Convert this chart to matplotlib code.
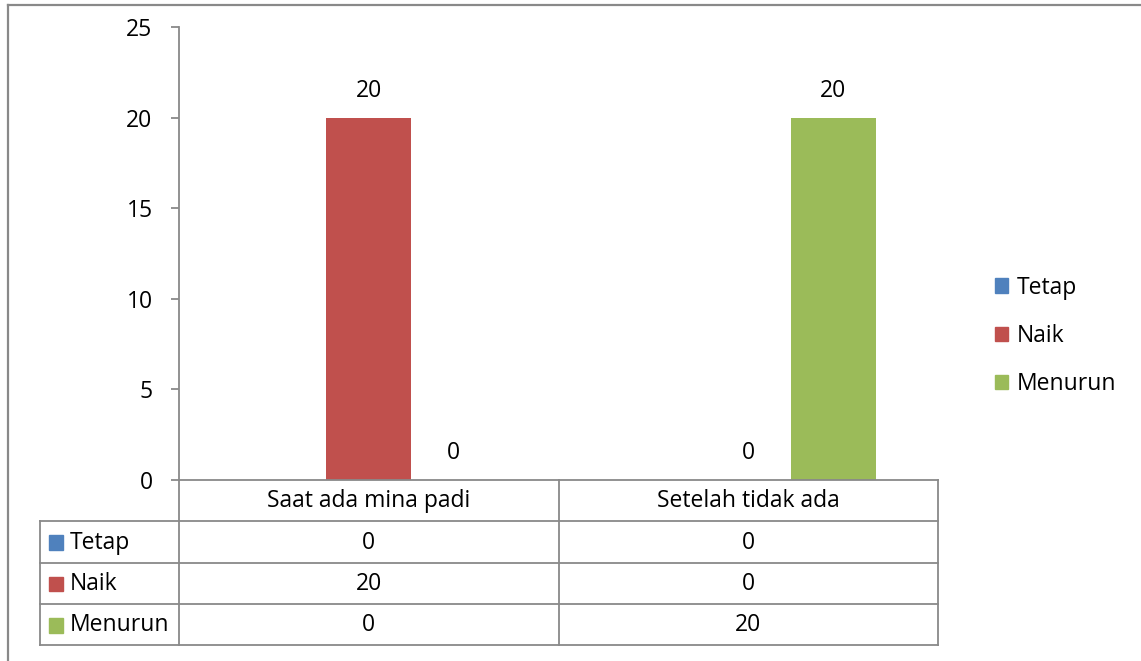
import matplotlib
matplotlib.use("Agg")
import matplotlib.pyplot as plt
from matplotlib.patches import Patch, Rectangle
from matplotlib.lines import Line2D

categories = ["Saat ada mina padi", "Setelah tidak ada"]
series = ["Tetap", "Naik", "Menurun"]
tetap = [0, 0]
naik = [20, 0]
menurun = [0, 20]
values = [tetap, naik, menurun]
colors = ["#4F81BD", "#C0504D", "#9BBB59"]
show_labels = [False, True, True]
yticks = [0, 5, 10, 15, 20, 25]

plt.rcParams["font.family"] = ["Open Sans", "DejaVu Sans"]
FS = 16.5
GRAY = "#898989"

W, H = 1141, 661
fig = plt.figure(figsize=(W / 100, H / 100), dpi=100)

def px_axes(x0, y0, x1, y1, **kw):
    return fig.add_axes([x0 / W, 1 - y1 / H, (x1 - x0) / W, (y1 - y0) / H], **kw)

# outer chart frame
fig.add_artist(Line2D([8 / W, 8 / W], [0, 1 - 5 / H], color=GRAY, lw=1.6))
fig.add_artist(Line2D([8 / W, 1], [1 - 5 / H, 1 - 5 / H], color=GRAY, lw=1.6))

ax = px_axes(179, 27, 938, 480)
n = len(categories)
bw = 0.224
for i, (name, vals, col, lab) in enumerate(zip(series, values, colors, show_labels)):
    xs = [c + (i - 1) * bw for c in range(n)]
    ax.bar(xs, vals, width=bw, color=col, label=name)
    if lab:
        for x, v in zip(xs, vals):
            ax.annotate(str(v), (x, v), xytext=(0, 27), textcoords="offset pixels",
                        ha="center", va="center", fontsize=FS)

ax.set_xlim(-0.5, n - 0.5)
ax.set_ylim(0, 25)
ax.set_yticks(yticks)
ax.set_xticks([])
for s in ["top", "right"]:
    ax.spines[s].set_visible(False)
for s in ["left", "bottom"]:
    ax.spines[s].set_color(GRAY)
    ax.spines[s].set_linewidth(1.3)
ax.tick_params(axis="y", length=6, width=1.3, color=GRAY, pad=13, labelsize=FS)

# data table beneath the plot
tab = px_axes(40, 480, 938, 645)
col_w = (938 - 179) / n
tab.set_xlim(40, 938)
tab.set_ylim(len(series) + 1, 0)
tab.axis("off")
lk = dict(color=GRAY, lw=1.3, clip_on=False)
x_left, x_first = 40, 179
for r in range(1, len(series) + 2):
    tab.plot([x_left, 938], [r, r], **lk)
for c in range(n + 1):
    tab.plot([x_first + c * col_w] * 2, [0, len(series) + 1], **lk)
tab.plot([x_left, x_left], [1, len(series) + 1], **lk)
for c, cat in enumerate(categories):
    tab.text(x_first + (c + 0.5) * col_w, 0.52, cat, ha="center", va="center", fontsize=FS)
for r, (name, vals, col) in enumerate(zip(series, values, colors)):
    yy = r + 1.52
    tab.add_patch(Rectangle((49, yy - 0.18), 14, 0.36, color=col, clip_on=False))
    tab.text(70, yy, name, ha="left", va="center", fontsize=FS)
    for c, v in enumerate(vals):
        tab.text(x_first + (c + 0.5) * col_w, yy, str(v), ha="center", va="center", fontsize=FS)

handles = [Patch(color=c, label=s) for s, c in zip(series, colors)]
fig.legend(handles=handles, loc="center left", bbox_to_anchor=(974 / W, 1 - 336 / H),
           frameon=False, fontsize=FS, handlelength=0.6, handleheight=0.6,
           handletextpad=0.35, labelspacing=1.06)

fig.savefig("out.png", dpi=100)
